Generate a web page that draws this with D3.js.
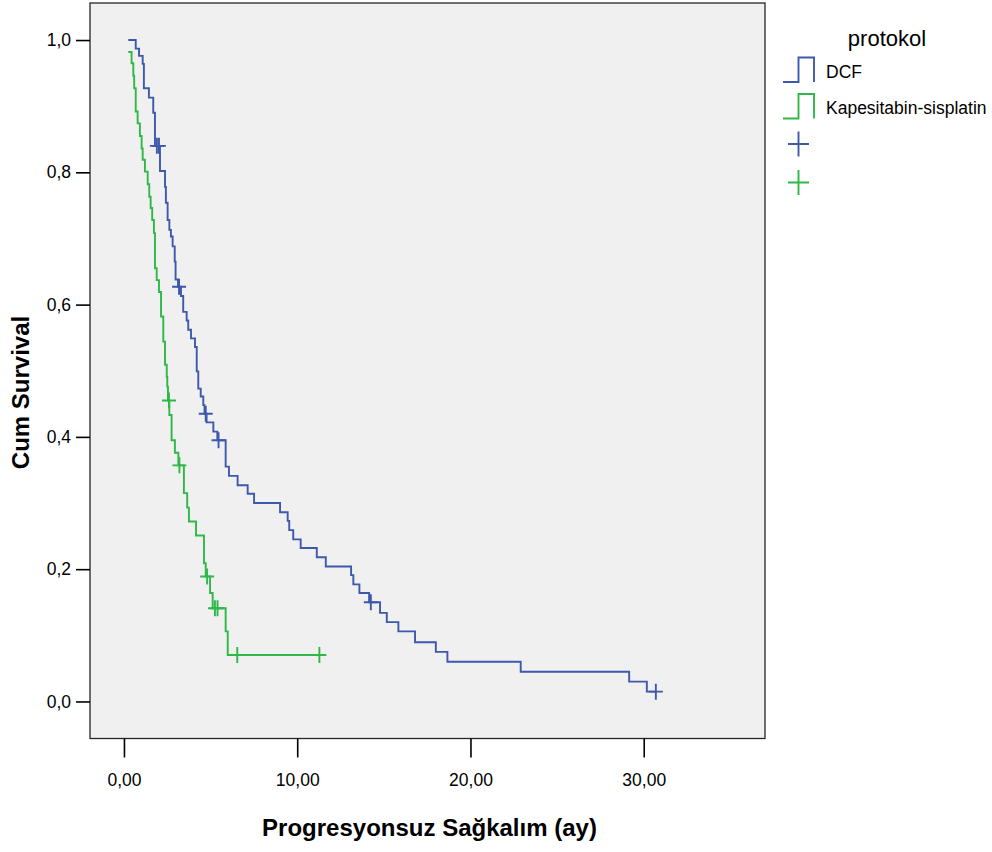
<!DOCTYPE html>
<html lang="tr">

<head>
    <meta charset="UTF-8">
    <title>Kaplan-Meier - protokol</title>
    <script src="https://cdn.jsdelivr.net/npm/d3@7/dist/d3.min.js"></script>
    <style>
        body {
            margin: 0;
            background: #fff;
        }

        svg {
            display: block;
            font-family: "Liberation Sans", Arial, sans-serif;
        }
    </style>
</head>

<body>
    <script>
        'use strict';

        // Progresyonsuz sağkalım (ay) – adım noktaları
        var groups = ['DCF', 'Kapesitabin-sisplatin'];
        var colors = ['#3e58ac', '#2eb848'];

        var dcfTimes = [0.25, 0.68, 0.87, 1.08, 1.15, 1.44, 1.69, 1.79, 2.08, 2.37, 2.42, 2.52, 2.62, 2.71, 2.81, 2.93,
            2.98, 3.12, 3.29, 3.42, 3.62, 3.71, 3.87, 4.10, 4.20, 4.29, 4.43, 4.58, 4.65, 4.77, 5.16, 5.39, 5.87, 6.06,
            6.56, 7.14, 7.51, 9.01, 9.45, 9.54, 9.77, 10.20, 11.13, 11.65, 13.11, 13.24, 13.59, 14.15, 14.78, 15.17,
            15.84, 16.80, 18.00, 18.67, 22.90, 29.16, 30.18, 30.70];
        var dcfSurv = [1.0, 0.987, 0.976, 0.964, 0.927, 0.913, 0.890, 0.840, 0.802, 0.778, 0.754, 0.728, 0.713, 0.703,
            0.688, 0.665, 0.638, 0.627, 0.613, 0.589, 0.576, 0.562, 0.549, 0.536, 0.499, 0.473, 0.461, 0.448, 0.435,
            0.422, 0.408, 0.395, 0.355, 0.341, 0.327, 0.314, 0.300, 0.286, 0.273, 0.259, 0.245, 0.232, 0.218, 0.204,
            0.191, 0.177, 0.164, 0.150, 0.134, 0.120, 0.106, 0.0895, 0.075, 0.060, 0.045, 0.030, 0.0148, 0.0148];
        var dcfCensored = [1.90, 2.02, 3.18, 4.72, 5.46, 14.25, 30.70];

        var kapTimes = [0.25, 0.44, 0.54, 0.59, 0.68, 0.79, 0.92, 1.02, 1.08, 1.21, 1.37, 1.46, 1.54, 1.63, 1.73, 1.79,
            1.89, 2.02, 2.14, 2.27, 2.37, 2.47, 2.50, 2.54, 2.62, 2.75, 2.94, 3.14, 3.46, 3.65, 3.75, 4.16, 4.62, 4.72,
            4.97, 5.12, 5.87, 5.99, 11.28];
        var kapSurv = [0.982, 0.965, 0.946, 0.927, 0.892, 0.874, 0.855, 0.836, 0.819, 0.801, 0.782, 0.763, 0.746, 0.728,
            0.708, 0.655, 0.637, 0.619, 0.582, 0.544, 0.509, 0.491, 0.476, 0.455, 0.433, 0.395, 0.376, 0.357, 0.315,
            0.293, 0.272, 0.251, 0.209, 0.189, 0.164, 0.141, 0.106, 0.0703, 0.0703];
        var kapCensored = [2.60, 3.20, 4.80, 5.25, 5.40, 6.54, 11.28];

        var xTicks = [0, 10, 20, 30];
        var yTicks = [0, 0.2, 0.4, 0.6, 0.8, 1.0];

        var w = 992,
            h = 852,
            mleft = 90,
            mtop = 3,
            pw = 675,
            ph = 735.5;

        var osvg = d3.select('body')
            .append('svg')
            .attr('width', w)
            .attr('height', h);

        var xsc = d3.scaleLinear()
            .domain([-1.96, 37.0])
            .range([0, pw]);

        var ysc = d3.scaleLinear()
            .domain([-0.056, 1.056])
            .range([ph, 0]);

        var comma = function(f) {
            return function(d) {
                return d3.format(f)(d).replace('.', ',');
            };
        };

        var plot = osvg.append('g')
            .attr('transform', 'translate(' + mleft + ',' + mtop + ')');

        plot.append('rect')
            .attr('width', pw)
            .attr('height', ph)
            .style('fill', '#f0f0f0')
            .style('stroke', '#262626')
            .style('stroke-width', 1.3);

        // eksenler
        var axL = plot.append('g')
            .call(d3.axisLeft(ysc).tickValues(yTicks).tickSize(14).tickPadding(5).tickFormat(comma('.1f')));
        var axB = plot.append('g')
            .attr('transform', 'translate(0,' + ph + ')')
            .call(d3.axisBottom(xsc).tickValues(xTicks).tickSize(19).tickPadding(16).tickFormat(comma('.2f')));

        [axL, axB].forEach(function(ax) {
            ax.select('.domain').remove();
            ax.selectAll('line').style('stroke', '#000').style('stroke-width', 1.6);
            ax.selectAll('text')
                .style('font-size', '17.5px')
                .style('fill', '#000')
                .style('font-family', '"Liberation Sans", Arial, sans-serif');
        });

        // eğriler
        var curves = [{
            times: dcfTimes,
            surv: dcfSurv,
            cens: dcfCensored
        }, {
            times: kapTimes,
            surv: kapSurv,
            cens: kapCensored
        }];

        var line = d3.line()
            .x(function(d) {
                return xsc(d[0]);
            })
            .y(function(d) {
                return ysc(d[1]);
            })
            .curve(d3.curveStepAfter);

        curves.forEach(function(c, i) {
            var pts = c.times.map(function(t, j) {
                return [t, c.surv[j]];
            });
            plot.append('path')
                .attr('d', line(pts))
                .style('fill', 'none')
                .style('stroke', colors[i])
                .style('stroke-width', 1.9);

            plot.append('g').selectAll('path')
                .data(c.cens)
                .enter()
                .append('path')
                .attr('d', function(t) {
                    var s = c.surv[d3.bisectRight(c.times, t) - 1];
                    var px = xsc(t),
                        py = ysc(s);
                    return 'M' + (px - 7) + ',' + py + 'H' + (px + 7) + 'M' + px + ',' + (py - 8) + 'V' + (py + 8);
                })
                .style('fill', 'none')
                .style('stroke', colors[i])
                .style('stroke-width', 1.9);
        });

        // eksen başlıkları
        osvg.append('text')
            .attr('x', mleft + pw / 2 + 2)
            .attr('y', 836)
            .attr('text-anchor', 'middle')
            .style('font-size', '24px')
            .style('font-weight', 'bold')
            .text('Progresyonsuz Sağkalım (ay)');

        osvg.append('text')
            .attr('transform', 'translate(29,392.5) rotate(-90)')
            .attr('text-anchor', 'middle')
            .style('font-size', '24px')
            .style('font-weight', 'bold')
            .text('Cum Survival');

        // lejant
        var lg = osvg.append('g').attr('transform', 'translate(783,0)');

        lg.append('text')
            .attr('x', 104)
            .attr('y', 46)
            .attr('text-anchor', 'middle')
            .style('font-size', '22px')
            .text('protokol');

        var rowY = [57.5, 94];
        groups.forEach(function(g, i) {
            var y0 = rowY[i];
            lg.append('path')
                .attr('d', 'M0,' + (y0 + 24.5) + 'H15.5V' + y0 + 'H31V' + (y0 + 24.5))
                .style('fill', 'none')
                .style('stroke', colors[i])
                .style('stroke-width', 1.9);
            lg.append('text')
                .attr('x', 43)
                .attr('y', y0 + 20)
                .style('font-size', '17.5px')
                .text(g);
        });

        var crossY = [144, 182.5];
        colors.forEach(function(col, i) {
            var cy = crossY[i];
            lg.append('path')
                .attr('d', 'M5,' + cy + 'H26M15.5,' + (cy - 12.5) + 'V' + (cy + 12.5))
                .style('fill', 'none')
                .style('stroke', col)
                .style('stroke-width', 1.9);
        });
    </script>
</body>

</html>
